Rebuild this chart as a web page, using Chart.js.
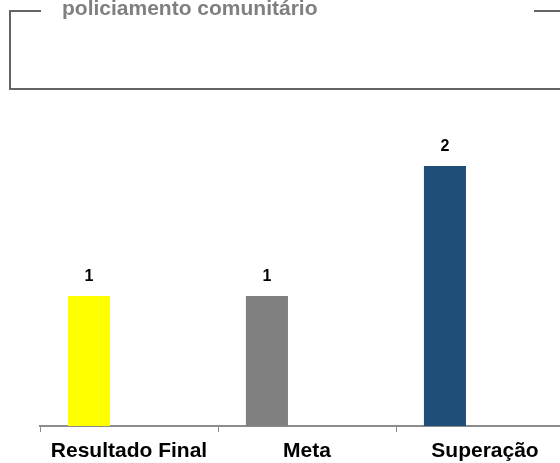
<!DOCTYPE html>
<html>
<head>
<meta charset="utf-8">
<script src="https://cdn.jsdelivr.net/npm/chart.js@4/dist/chart.umd.min.js"></script>
<style>
  html, body { margin: 0; padding: 0; background: #ffffff; }
  #wrap { position: relative; width: 560px; height: 463px; overflow: hidden; }
  #chart { position: absolute; left: 0; top: 0; }
  .rule { position: absolute; background: #646464; }
  #heading {
    position: absolute; left: 62px; top: -4px;
    font: bold 21px "Liberation Sans", Arial, sans-serif; line-height: 24px;
    color: #7f7f7f; white-space: nowrap;
  }
</style>
</head>
<body>
<div id="wrap">
  <canvas id="chart" width="580" height="463"></canvas>
  <!-- header frame -->
  <div class="rule" style="left:9px;top:10px;width:2px;height:80px;"></div>
  <div class="rule" style="left:9px;top:88px;width:551px;height:2px;"></div>
  <div class="rule" style="left:9px;top:10px;width:32px;height:2px;"></div>
  <div class="rule" style="left:534px;top:10px;width:26px;height:2px;"></div>
  <div id="heading">policiamento comunitário</div>
</div>
<script>
// Indicator results
const categories = ['Resultado Final', 'Meta', 'Superação'];
const values = [1, 1, 2];
const barColors = ['#ffff00', '#808080', '#1f4e79'];
const placeholder = [null, null, null];

// Prints each bar's value just above it
const valueLabels = {
  id: 'valueLabels',
  afterDatasetsDraw(chart) {
    const ctx = chart.ctx;
    const meta = chart.getDatasetMeta(0);
    ctx.save();
    ctx.font = 'bold 16px "Liberation Sans", Arial, sans-serif';
    ctx.fillStyle = '#000000';
    ctx.textAlign = 'center';
    ctx.textBaseline = 'alphabetic';
    meta.data.forEach((bar, i) => {
      ctx.fillText(String(values[i]), bar.x, bar.y - 15);
    });
    ctx.restore();
  }
};

new Chart(document.getElementById('chart'), {
  type: 'bar',
  data: {
    labels: categories,
    datasets: [
      { data: values, backgroundColor: barColors, borderWidth: 0,
        categoryPercentage: 0.9, barPercentage: 0.525 },
      { data: placeholder, backgroundColor: '#ffffff', borderWidth: 0,
        categoryPercentage: 0.9, barPercentage: 0.525 }
    ]
  },
  options: {
    responsive: false,
    animation: false,
    devicePixelRatio: 1,
    layout: { padding: { top: 101, left: 40, right: 6, bottom: 0 } },
    plugins: { legend: { display: false }, tooltip: { enabled: false }, title: { display: false } },
    scales: {
      x: {
        grid: { display: true, drawOnChartArea: false, drawTicks: true, tickLength: 6,
                color: '#8c8c8c', lineWidth: 1, offset: true },
        border: { display: true, color: '#8c8c8c', width: 2 },
        ticks: { color: '#000000', padding: 7, maxRotation: 0, autoSkip: false,
                 font: { family: '"Liberation Sans", Arial, sans-serif', size: 21, weight: 'bold' } },
        afterFit(scale) { scale.height = 37; }
      },
      y: { display: false, min: 0, max: 2.5 }
    }
  },
  plugins: [valueLabels]
});
</script>
</body>
</html>
